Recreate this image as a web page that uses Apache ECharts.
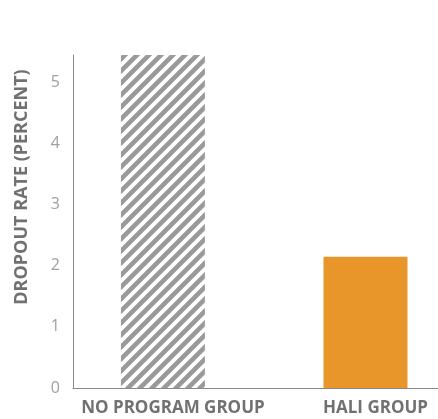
<!DOCTYPE html>
<html>
<head>
<meta charset="utf-8">
<script src="https://cdn.jsdelivr.net/npm/echarts@6/dist/echarts.min.js"></script>
<style>
  html, body { margin: 0; padding: 0; background: #fff; }
  #chart-view { width: 438px; height: 419px; }
</style>
</head>
<body>
<div id="chart-view"></div>
<script>
// 数据
var categories = ['NO PROGRAM GROUP', 'HALI GROUP'];
var dropoutRates = [5.45, 2.15];
var yTicks = [0, 1, 2, 3, 4, 5];
var axisTitle = 'DROPOUT RATE (PERCENT)';

// 斜线填充
function makeHatch() {
    var size = 12;
    var cv = document.createElement('canvas');
    cv.width = size;
    cv.height = size;
    var ctx = cv.getContext('2d');
    ctx.fillStyle = '#fff';
    ctx.fillRect(0, 0, size, size);
    ctx.strokeStyle = '#9a9a9a';
    ctx.lineWidth = 4.6;
    ctx.beginPath();
    ctx.moveTo(-size, 2 * size); ctx.lineTo(2 * size, -size);
    ctx.moveTo(-size, size); ctx.lineTo(size, -size);
    ctx.moveTo(0, 2 * size); ctx.lineTo(2 * size, 0);
    ctx.stroke();
    return cv;
}

var barColors = [
    { image: makeHatch(), repeat: 'repeat' },
    '#e8962a'
];

var chart = echarts.init(document.getElementById('chart-view'));
chart.setOption({
    animation: false,
    grid: { left: 73, right: 0, top: 55, bottom: 31, containLabel: false },
    xAxis: {
        type: 'value',
        min: -0.444,
        max: 1.358,
        axisLine: { show: true, onZero: false, lineStyle: { color: '#8a8a8a', width: 1 } },
        axisTick: { show: false },
        splitLine: { show: false },
        axisLabel: {
            customValues: [0, 1],
            formatter: function (v) { return categories[Math.round(v)] || ''; },
            color: '#717171',
            fontFamily: 'Open Sans',
            fontWeight: 'bold',
            fontSize: 17,
            padding: [0, 0, 0, 20],
            margin: 12
        }
    },
    yAxis: {
        type: 'value',
        min: 0,
        max: 5.45,
        interval: 1,
        axisLine: { show: true, onZero: false, lineStyle: { color: '#8a8a8a', width: 1 } },
        axisTick: { show: false },
        splitLine: { show: false },
        axisLabel: {
            customValues: yTicks,
            color: '#a0a0a0',
            fontFamily: 'Open Sans',
            fontSize: 16,
            margin: 13
        }
    },
    graphic: [{
        type: 'text',
        x: 22,
        y: 187,
        rotation: Math.PI / 2,
        style: {
            text: axisTitle,
            fill: '#717171',
            font: 'bold 18px "Open Sans"',
            align: 'center',
            verticalAlign: 'middle'
        }
    }],
    series: [{
        type: 'bar',
        barWidth: 84,
        data: categories.map(function (c, i) {
            return { value: [i, dropoutRates[i]], itemStyle: { color: barColors[i] } };
        })
    }]
});
</script>
</body>
</html>
